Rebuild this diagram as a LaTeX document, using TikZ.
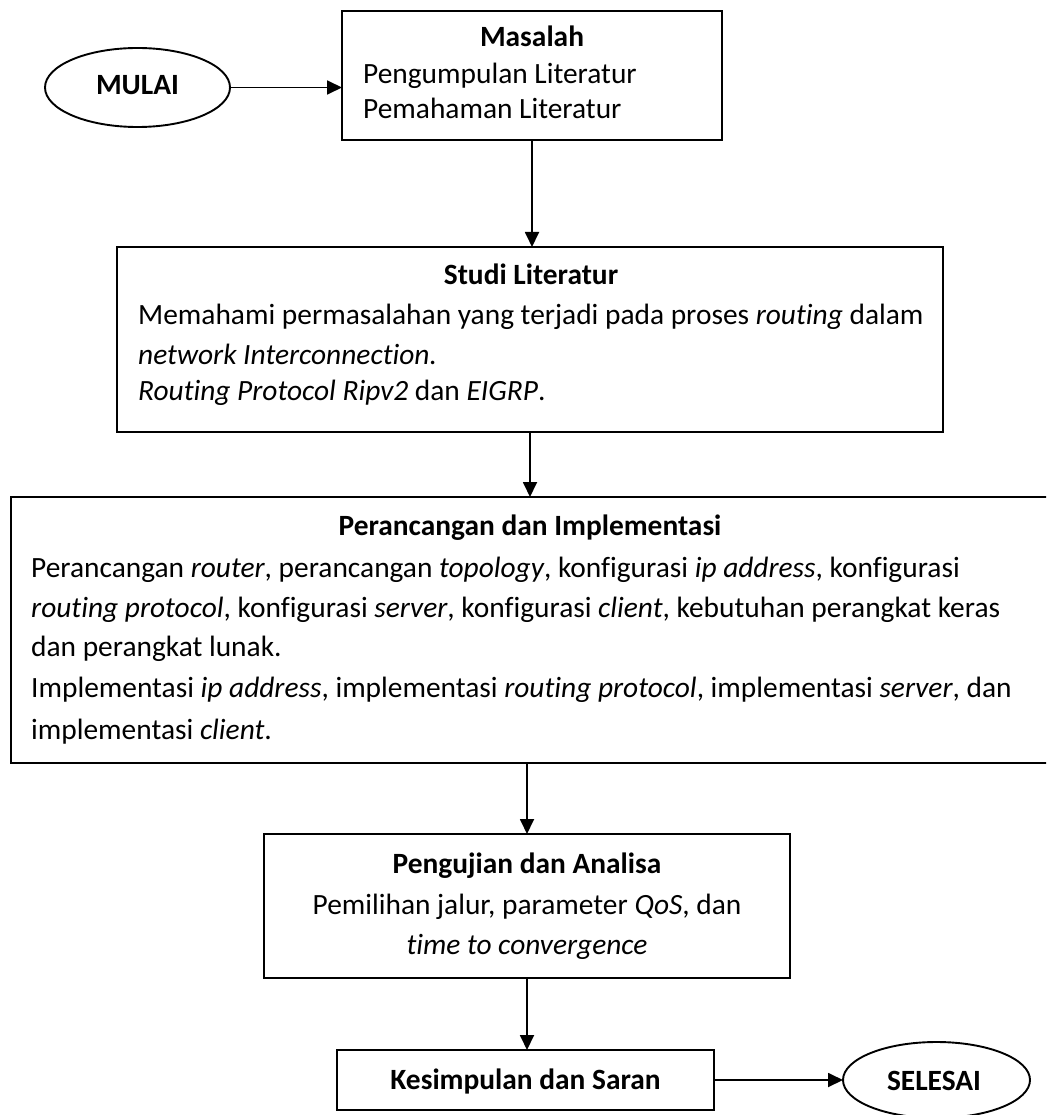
\documentclass[tikz,border=0pt]{standalone}
\usepackage{fontspec}
\setmainfont{Carlito}[Ligatures={NoCommon}]
\usetikzlibrary{arrows.meta,shapes.geometric}
\tikzset{
  box/.style={draw, line width=1.9pt, inner sep=0pt, outer sep=0pt},
  oval/.style={draw, ellipse, line width=1.9pt, inner sep=0pt, outer sep=0pt},
  txt/.style={inner sep=0pt, text height=20pt, text depth=6pt, font=\fontsize{29.4}{34}\selectfont},
  ttl/.style={txt, font=\fontsize{29.4}{34}\selectfont\bfseries},
  arr/.style={line width=1.8pt, -{Triangle[length=15pt,width=14pt]}}
}
\begin{document}
\begin{tikzpicture}[x=1pt,y=-1pt]
\clip (0,0) rectangle (1046,1115);
\useasboundingbox (0,0) rectangle (1046,1115);
\fill[white] (0,0) rectangle (1046,1115);

% start / end
\node[oval, minimum width=185pt, minimum height=79pt] (mulai) at (137.5,87.5) {};
\node[ttl] (tmulai) at (137.5,88) {MULAI};
\node[oval, minimum width=187pt, minimum height=76pt] (selesai) at (936.5,1080) {};
\node[ttl] (tselesai) at (934,1083) {SELESAI};

% Masalah
\node[box, minimum width=380pt, minimum height=129pt] (masalah) at (532,75.5) {};
\node[ttl] (m0) at (532,40) {Masalah};
\node[txt, anchor=west] (m1) at (363,77) {Pengumpulan Literatur};
\node[txt, anchor=west] (m2) at (363,112) {Pemahaman Literatur};

% Studi Literatur
\node[box, minimum width=826pt, minimum height=185pt] (studi) at (530,339.5) {};
\node[ttl] (s0) at (531,277) {Studi Literatur};
\node[txt, anchor=west] (s1) at (138,317) {Memahami permasalahan yang terjadi pada proses \textit{routing} dalam};
\node[txt, anchor=west] (s2) at (138,357) {\textit{network Interconnection.}};
\node[txt, anchor=west] (s3) at (138,393) {\textit{Routing Protocol Ripv2} dan \textit{EIGRP}.};

% Perancangan dan Implementasi
\node[box, minimum width=1049pt, minimum height=266pt] (peran) at (535.5,630) {};
\node[ttl] (p0) at (530,528) {Perancangan dan Implementasi};
\node[txt, anchor=west] (p1) at (31,570) {Perancangan \textit{router}, perancangan \textit{topology}, konfigurasi \textit{ip address}, konfigurasi};
\node[txt, anchor=west] (p2) at (31,610) {\textit{routing protocol}, konfigurasi \textit{server}, konfigurasi \textit{client}, kebutuhan perangkat keras};
\node[txt, anchor=west] (p3) at (31,649) {dan perangkat lunak.};
\node[txt, anchor=west] (p4) at (31,690) {Implementasi \textit{ip address}, implementasi \textit{routing protocol}, implementasi \textit{server}, dan};
\node[txt, anchor=west] (p5) at (31,732) {implementasi \textit{client}.};

% Pengujian dan Analisa
\node[box, minimum width=526pt, minimum height=144pt] (uji) at (527,906) {};
\node[ttl] (u0) at (527,866) {Pengujian dan Analisa};
\node[txt] (u1) at (527,907) {Pemilihan jalur, parameter \textit{QoS}, dan};
\node[txt] (u2) at (527,947) {\textit{time to convergence}};

% Kesimpulan dan Saran
\node[box, minimum width=377pt, minimum height=60pt] (kes) at (525.5,1080) {};
\node[ttl] (k0) at (525.5,1082) {Kesimpulan dan Saran};

% connectors
\draw[arr] (mulai.east) -- (masalah.west |- mulai.east);
\draw[arr] (masalah.south) -- (masalah.south |- studi.north);
\draw[arr] (studi.south) -- (studi.south |- peran.north);
\draw[arr] (uji.north |- peran.south) -- (uji.north);
\draw[arr] (uji.south) -- (uji.south |- kes.north);
\draw[arr] (kes.east) -- (selesai.west);
\end{tikzpicture}
\end{document}
